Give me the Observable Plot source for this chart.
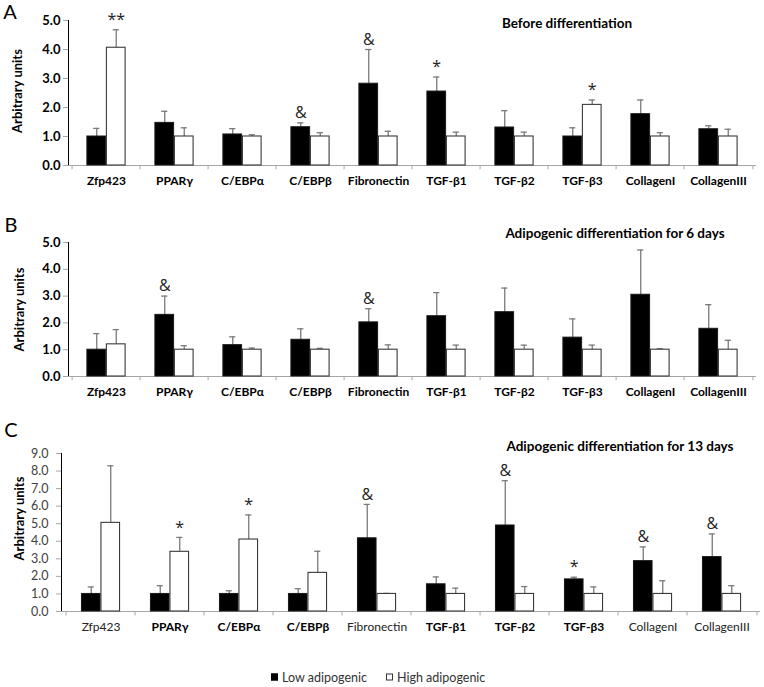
<!DOCTYPE html>
<html><head><meta charset="utf-8">
<script src="https://cdn.jsdelivr.net/npm/d3@7"></script>
<script src="https://cdn.jsdelivr.net/npm/@observablehq/plot@0.6"></script>
<style>
body{margin:0;background:#fff;}
#root{position:relative;width:764px;height:687px;font-family:Lato,"Open Sans",sans-serif;color:#000;}
.panel{position:absolute;left:0;}
.letter{position:absolute;font-size:20px;line-height:1;transform:translate(-50%,-50%);}
.title{position:absolute;font-weight:bold;font-size:13.5px;transform:translate(-50%,-50%);white-space:nowrap;}
.legend{position:absolute;top:677px;font-size:12.5px;color:#333;transform:translateY(-50%);white-space:nowrap;display:flex;align-items:center;}
.sw{display:inline-block;width:7px;height:7px;margin-right:4px;box-sizing:border-box;}
</style></head><body><div id="root"></div>
<script>
const genes = ["Zfp423","PPARγ","C/EBPα","C/EBPβ","Fibronectin","TGF-β1","TGF-β2","TGF-β3","CollagenI","CollagenIII"];
const seriesNames = ["Low adipogenic","High adipogenic"];

// Panel A: Before differentiation
const aLow      = [1.00,1.47,1.07,1.32,2.82,2.55,1.31,1.00,1.77,1.25];
const aLowErr   = [1.28,1.87,1.27,1.47,4.00,3.05,1.89,1.30,2.26,1.37];
const aHigh     = [4.06,1.00,1.00,1.00,1.00,1.00,1.00,2.09,1.00,1.00];
const aHighErr  = [4.68,1.30,1.06,1.13,1.18,1.15,1.15,2.26,1.13,1.25];
const aLowMark  = ["","","","&","&","*","","","",""];
const aHighMark = ["**","","","","","","","*","",""];

// Panel B: 6 days
const bLow      = [1.00,2.30,1.17,1.37,2.02,2.25,2.40,1.45,3.05,1.78];
const bLowErr   = [1.60,3.00,1.48,1.78,2.53,3.13,3.30,2.15,4.72,2.68];
const bHigh     = [1.20,1.00,1.00,1.00,1.00,1.00,1.00,1.00,1.00,1.00];
const bHighErr  = [1.75,1.15,1.06,1.05,1.18,1.17,1.17,1.17,1.04,1.35];
const bLowMark  = ["","&","","","&","","","","",""];
const bHighMark = ["","","","","","","","","",""];

// Panel C: 13 days
const cLow      = [1.00,1.00,1.00,1.00,4.17,1.55,4.90,1.83,2.87,3.10];
const cLowErr   = [1.40,1.47,1.18,1.30,6.10,1.97,7.45,1.95,3.68,4.42];
const cHigh     = [5.05,3.40,4.10,2.20,1.00,1.00,1.00,1.00,1.00,1.00];
const cHighErr  = [8.30,4.22,5.50,3.43,1.03,1.33,1.42,1.40,1.75,1.47];
const cLowMark  = ["","","","","&","","&","*","&","&"];
const cHighMark = ["","*","*","","","","","","",""];
const cLabelBold = [false,true,true,true,false,true,true,true,false,false];

const yTicksA = [0,1,2,3,4,5];
const yTicksC = [0,1,2,3,4,5,6,7,8,9];

const axisGray = "#a6a6a6";
const errGray = "#7a7a7a";

function rows(low, lowErr, lowMark, high, highErr, highMark) {
  const r = [];
  genes.forEach((g, i) => {
    r.push({gene: g, series: seriesNames[0], value: low[i], err: lowErr[i], mark: lowMark[i]});
    r.push({gene: g, series: seriesNames[1], value: high[i], err: highErr[i], mark: highMark[i]});
  });
  return r;
}

function panel(cfg) {
  const {data, top, height, marginLeft, marginRight, yMax, yTicks, tickBold, labelBold, tickPadding, yLabelDx, yLabelDy, tickLen} = cfg;
  const width = 764, marginTop = 20, marginBottom = 30;
  const step = (width - marginLeft - marginRight) / genes.length;
  const bw = 19.5;
  const cap = 3.5;
  const low = data.filter(d => d.series === seriesNames[0]);
  const high = data.filter(d => d.series === seriesNames[1]);
  const boldGenes = genes.filter((g, i) => labelBold[i]);
  const normGenes = genes.filter((g, i) => !labelBold[i]);
  const fontFam = "Lato, 'Open Sans', sans-serif";
  const markFont = "'Open Sans', 'DejaVu Sans', sans-serif";
  const svg = Plot.plot({
    width, height, marginTop, marginBottom, marginLeft, marginRight,
    style: {fontFamily: fontFam, background: "transparent", overflow: "visible"},
    x: {domain: genes, padding: 0, axis: null},
    y: {domain: [0, yMax], ticks: yTicks, tickFormat: d3.format(".1f"), tickSize: 5, tickPadding, label: null, line: true},
    marks: [
      Plot.ruleY([0], {stroke: axisGray, strokeWidth: 1.2}),
      Plot.ruleX(genes, {x: d => d, y1: 0, y2: -tickLen, dx: -step / 2, stroke: axisGray}),
      Plot.ruleX([genes[genes.length - 1]], {x: d => d, y1: 0, y2: -tickLen, dx: step / 2, stroke: axisGray}),
      Plot.ruleX(low, {x: "gene", y1: "value", y2: "err", dx: -bw / 2, stroke: errGray, strokeWidth: 1.3}),
      Plot.ruleX(high, {x: "gene", y1: "value", y2: "err", dx: bw / 2, stroke: errGray, strokeWidth: 1.3}),
      Plot.tickY(low, {x: "gene", y: "err", dx: -bw / 2, insetLeft: step / 2 - cap, insetRight: step / 2 - cap, stroke: errGray, strokeWidth: 1.3}),
      Plot.tickY(high, {x: "gene", y: "err", dx: bw / 2, insetLeft: step / 2 - cap, insetRight: step / 2 - cap, stroke: errGray, strokeWidth: 1.3}),
      Plot.barY(low, {x: "gene", y: "value", fill: "#000", stroke: "#1a1a1a", strokeWidth: 1, insetLeft: step / 2 - bw, insetRight: step / 2}),
      Plot.barY(high, {x: "gene", y: "value", fill: "#fff", stroke: "#3a3a3a", strokeWidth: 1.1, insetLeft: step / 2, insetRight: step / 2 - bw}),
      Plot.text(low.filter(d => d.mark), {x: "gene", y: "err", text: "mark", dx: -bw / 2, dy: -10, fontSize: 16, fontFamily: markFont, fill: "#222"}),
      Plot.text(high.filter(d => d.mark), {x: "gene", y: "err", text: "mark", dx: bw / 2, dy: -10, fontSize: 16, fontFamily: markFont, fill: "#222"}),
      Plot.text(boldGenes, {x: d => d, frameAnchor: "bottom", dy: 19, fontSize: 12, fontWeight: "bold", fill: "#000"}),
      Plot.text(normGenes, {x: d => d, frameAnchor: "bottom", dy: 19, fontSize: 12, fill: "#222"}),
      Plot.text(["Arbitrary units"], {frameAnchor: "left", textAnchor: "middle", rotate: -90, dx: yLabelDx, dy: yLabelDy, fontSize: 13, fontWeight: "bold", fill: "#000"})
    ]
  });
  svg.classList.add("panel");
  svg.style.top = top + "px";
  svg.querySelectorAll('[aria-label="y-axis tick label"] text, [aria-label="y-axis"] text').forEach(t => {
    if (tickBold) { t.setAttribute("font-weight", "bold"); t.setAttribute("font-size", "13"); t.setAttribute("fill", "#000"); }
    else { t.setAttribute("font-size", "12.5"); t.setAttribute("fill", "#404040"); }
  });
  svg.querySelectorAll('[aria-label="y-axis tick"], [aria-label="y-axis"] path, [aria-label="y-axis"] line').forEach(t => {
    t.setAttribute("stroke", axisGray);
  });
  return svg;
}

const root = document.getElementById("root");
root.appendChild(panel({data: rows(aLow, aLowErr, aLowMark, aHigh, aHighErr, aHighMark), top: 0, height: 195,
  marginLeft: 68, marginRight: 8, yMax: 5, yTicks: yTicksA, tickBold: true, labelBold: genes.map(() => true),
  tickPadding: 3, yLabelDx: -50.5, yLabelDy: -2, tickLen: 0.15}));
root.appendChild(panel({data: rows(bLow, bLowErr, bLowMark, bHigh, bHighErr, bHighMark), top: 222, height: 184,
  marginLeft: 68, marginRight: 8, yMax: 5, yTicks: yTicksA, tickBold: true, labelBold: genes.map(() => true),
  tickPadding: 3, yLabelDx: -49, yLabelDy: 0, tickLen: 0.16}));
root.appendChild(panel({data: rows(cLow, cLowErr, cLowMark, cHigh, cHighErr, cHighMark), top: 433, height: 208,
  marginLeft: 61, marginRight: 4, yMax: 9, yTicks: yTicksC, tickBold: false, labelBold: cLabelBold,
  tickPadding: 8, yLabelDx: -42, yLabelDy: -14, tickLen: 0.25}));

const letters = [["A", 10, 11], ["B", 11, 224], ["C", 11, 429]];
letters.forEach(([t, x, y]) => {
  const d = document.createElement("div"); d.className = "letter"; d.textContent = t;
  d.style.left = x + "px"; d.style.top = y + "px"; root.appendChild(d);
});
const titles = [["Before differentiation", 567, 23], ["Adipogenic differentiation for 6 days", 615, 233], ["Adipogenic differentiation for 13 days", 620, 446]];
titles.forEach(([t, x, y]) => {
  const d = document.createElement("div"); d.className = "title"; d.textContent = t;
  d.style.left = x + "px"; d.style.top = y + "px"; root.appendChild(d);
});
const legendItems = [[seriesNames[0], 271, "#000", "#000"], [seriesNames[1], 386, "#fff", "#333"]];
legendItems.forEach(([t, x, fill, stroke]) => {
  const d = document.createElement("div"); d.className = "legend"; d.style.left = x + "px";
  const s = document.createElement("span"); s.className = "sw"; s.style.background = fill; s.style.border = "1px solid " + stroke;
  d.appendChild(s); d.appendChild(document.createTextNode(t)); root.appendChild(d);
});
</script></body></html>
